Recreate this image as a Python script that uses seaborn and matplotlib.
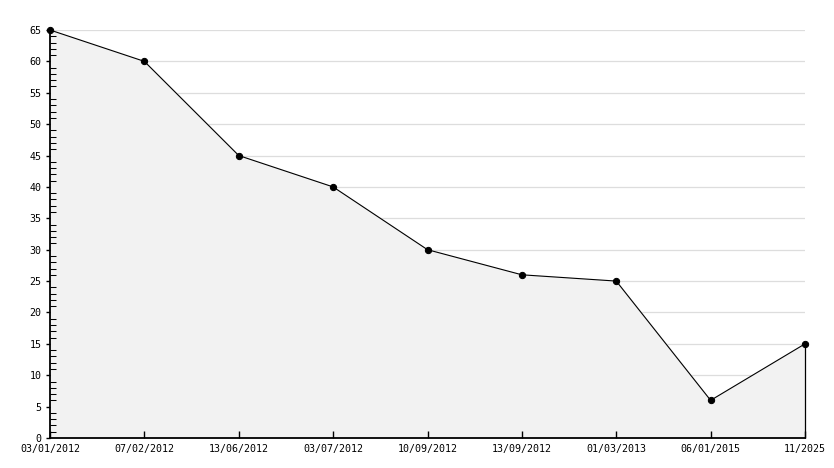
import matplotlib
matplotlib.use("Agg")
import matplotlib.pyplot as plt
import numpy as np
import pandas as pd
import seaborn as sns
from matplotlib.ticker import MultipleLocator

dates = ["03/01/2012", "07/02/2012", "13/06/2012", "03/07/2012", "10/09/2012",
         "13/09/2012", "01/03/2013", "06/01/2015", "11/2025"]
values = [65, 60, 45, 40, 30, 26, 25, 6, 15]

df = pd.DataFrame({"pos": np.arange(len(dates)), "value": values})

sns.set_style("white", {"xtick.bottom": True, "ytick.left": True,
                        "xtick.color": "black", "ytick.color": "black",
                        "axes.edgecolor": "black"})
plt.rcParams["font.family"] = ["DejaVu Sans Mono", "DejaVu Sans"]

fig = plt.figure(figsize=(8.34, 4.68), dpi=100)
ax = fig.add_axes([50 / 834, 1 - 438 / 468, 755 / 834, 408 / 468])
ax.set_axisbelow(False)

ax.fill_between(df["pos"], df["value"], 0, color="#f2f2f2", zorder=1)
ax.vlines(df["pos"].iloc[-1], 0, df["value"].iloc[-1], color="black",
          linewidth=0.9, zorder=2, clip_on=False)
sns.lineplot(data=df, x="pos", y="value", ax=ax, color="black", linewidth=0.8,
             marker="o", markersize=4.5, markeredgecolor="black", zorder=3,
             clip_on=False)

# light horizontal guide lines
for y in range(5, 70, 5):
    ax.axhline(y, color="#dddddd", linewidth=0.9, zorder=0.5)

ax.set_xlim(0, len(dates) - 1)
ax.set_ylim(0, 65)
ax.set_xticks(df["pos"])
ax.set_xticklabels(dates)
ax.yaxis.set_major_locator(MultipleLocator(5))
ax.yaxis.set_minor_locator(MultipleLocator(1))
ax.set_xlabel("")
ax.set_ylabel("")

for side in ["top", "right"]:
    ax.spines[side].set_visible(False)
for side in ["left", "bottom"]:
    ax.spines[side].set_linewidth(1.3)
    ax.spines[side].set_color("black")
    ax.spines[side].set_zorder(4)

ax.tick_params(axis="y", which="major", direction="out", length=3, width=1,
               labelsize=7.2, pad=3, left=True, color="black", labelcolor="black")
ax.tick_params(axis="y", which="minor", direction="in", length=4, width=0.75,
               left=True, color="black")
ax.tick_params(axis="x", which="major", direction="in", length=5, width=1,
               labelsize=7.2, pad=4, bottom=True, color="black", labelcolor="black")

fig.savefig("out.png", dpi=100)
